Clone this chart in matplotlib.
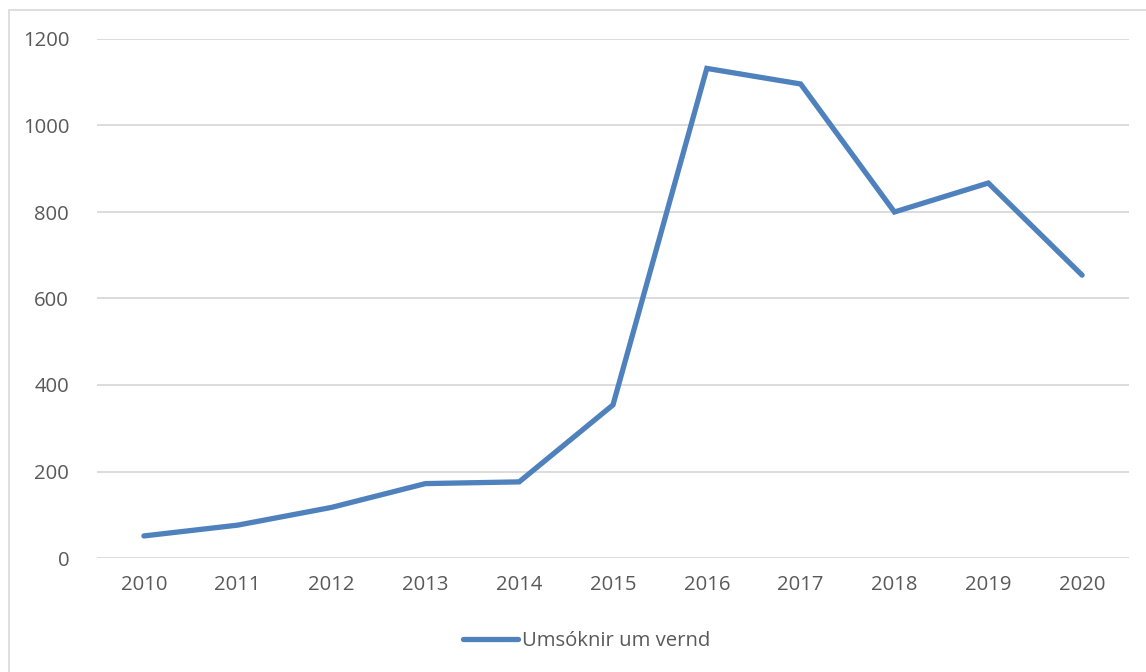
import matplotlib
matplotlib.use("Agg")
import matplotlib.pyplot as plt
from matplotlib.patches import Rectangle
from matplotlib.lines import Line2D

years = ["2010", "2011", "2012", "2013", "2014", "2015",
         "2016", "2017", "2018", "2019", "2020"]
applications = [51, 76, 117, 172, 176, 354, 1132, 1096, 800, 867, 654]
series_label = "Umsóknir um vernd"
y_ticks = [0, 200, 400, 600, 800, 1000, 1200]

plt.rcParams["font.family"] = ["Open Sans", "DejaVu Sans"]
text_color = "#595959"
line_color = "#4F81BD"
grid_color = "#D9D9D9"
fs = 14.6

fig = plt.figure(figsize=(11.46, 6.72), dpi=100)
fig.patch.set_facecolor("white")

# Chart frame
fig.patches.append(Rectangle((9 / 1146, -0.05), 1.2, 1 - 10 / 672 + 0.05,
                             transform=fig.transFigure, fill=False,
                             edgecolor=grid_color, linewidth=1.2))

ax = fig.add_axes([97 / 1146, 1 - 558 / 672, (1129 - 97) / 1146, (558 - 39) / 672])
x = list(range(len(years)))
ax.plot(x, applications, color=line_color, linewidth=3.8,
        solid_joinstyle="miter", solid_capstyle="round")

ax.set_xlim(-0.5, len(years) - 0.5)
ax.set_ylim(0, 1200)
ax.set_yticks(y_ticks)
ax.set_xticks(x)
ax.set_xticklabels(years)
ax.yaxis.grid(True, color=grid_color, linewidth=1.3)
ax.set_axisbelow(True)
for s in ax.spines.values():
    s.set_visible(False)
ax.tick_params(axis="both", length=0, labelsize=fs, colors=text_color)
ax.tick_params(axis="y", pad=20)
ax.tick_params(axis="x", pad=12)

handle = Line2D([], [], color=line_color, linewidth=3.8, solid_capstyle="round")
fig.legend([handle], [series_label], loc="center", bbox_to_anchor=(587 / 1146, 1 - 641 / 672),
           frameon=False, fontsize=fs, labelcolor=text_color,
           handlelength=2.7, handletextpad=0.2)

fig.savefig("out.png", dpi=100, facecolor="white")
